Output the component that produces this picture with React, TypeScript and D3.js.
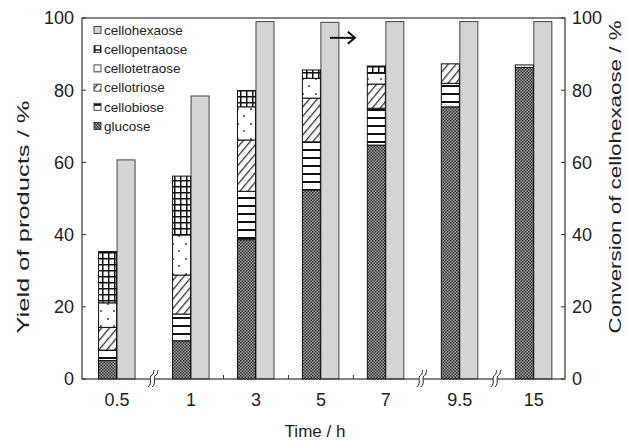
import React from 'react'
import * as d3 from 'd3'

// time points (h) and the ones followed by an axis break
const times = ['0.5', '1', '3', '5', '7', '9.5', '15']
const breaksAfter = ['0.5', '7', '9.5']

// yields (%) stacked bottom -> top
const glucose = [5.1, 10.6, 38.6, 52.4, 64.8, 75.4, 86.3]
const cellobiose = [2.9, 7.4, 13.4, 13.3, 10.2, 6.5, 0.7]
const cellotriose = [6.3, 10.8, 14.2, 12.1, 6.7, 5.4, 0]
const cellotetraose = [6.8, 11.1, 9.2, 5.5, 3.0, 0, 0]
const cellopentaose = [14.2, 16.3, 4.5, 2.3, 2.0, 0, 0]

// conversion of cellohexaose (%), right axis
const conversion = [60.7, 78.4, 99.0, 98.8, 99.0, 99.0, 99.0]

const yTicks = [0, 20, 40, 60, 80, 100]

const keys = ['glucose', 'cellobiose', 'cellotriose', 'cellotetraose', 'cellopentaose']
const legendItems = ['cellohexaose', 'cellopentaose', 'cellotetraose', 'cellotriose', 'cellobiose', 'glucose']

const W = 627
const H = 440
const left = 82
const right = 565
const top = 18
const bottom = 379
const bw = 18
const font = 'Arial, "Liberation Sans", sans-serif'
const ink = '#222'

const fills: Record<string, string> = {
  cellohexaose: '#d4d4d4',
  cellopentaose: 'url(#p-penta)',
  cellotetraose: 'url(#p-tetra)',
  cellotriose: 'url(#p-tri)',
  cellobiose: 'url(#p-bi)',
  glucose: 'url(#p-glc)',
}

export default function App() {
  // category slots, with a little extra room where the axis is broken
  let off = 0
  const slots = times.map((t, i) => {
    if (i > 0 && breaksAfter.includes(times[i - 1])) off += 0.14
    return i + off
  })

  const x = d3
    .scaleLinear()
    .domain([slots[0] - 0.54, slots[slots.length - 1] + 0.48])
    .range([left, right])
  const y = d3.scaleLinear().domain([0, 100]).range([bottom, top])
  const yR = d3.scaleLinear().domain([0, 100]).range([bottom, top])

  const table = times.map((t, i) => ({
    time: t,
    glucose: glucose[i],
    cellobiose: cellobiose[i],
    cellotriose: cellotriose[i],
    cellotetraose: cellotetraose[i],
    cellopentaose: cellopentaose[i],
  }))
  const series = d3.stack<any>().keys(keys)(table)

  const bounds = slots.slice(1).map((s, i) => ({
    pos: (s + slots[i]) / 2,
    isBreak: breaksAfter.includes(times[i]),
  }))

  const ax = x(slots[3]) // arrow sits by the 5 h conversion bar

  return (
    <svg width={W} height={H} style={{ position: 'absolute', left: 0, top: 0, background: '#fff' }}>
      <defs>
        <pattern id="p-glc" width="3" height="3" patternUnits="userSpaceOnUse">
          <rect width="3" height="3" fill="#a6a6a6" />
          <rect width="1.5" height="1.5" fill="#2a2a2a" />
          <rect x="1.5" y="1.5" width="1.5" height="1.5" fill="#2a2a2a" />
        </pattern>
        <pattern id="p-bi" width="8" height="8" patternUnits="userSpaceOnUse">
          <rect width="8" height="8" fill="#fff" />
          <rect y="5" width="8" height="2" fill="#111" />
        </pattern>
        <pattern id="p-tri" width="6" height="6" patternUnits="userSpaceOnUse" patternTransform="rotate(40)">
          <rect width="6" height="6" fill="#fff" />
          <rect width="1.3" height="6" fill="#333" />
        </pattern>
        <pattern id="p-tetra" width="13" height="15" patternUnits="userSpaceOnUse">
          <rect width="13" height="15" fill="#fff" />
          <circle cx="4" cy="4" r="0.9" fill="#333" />
          <circle cx="10" cy="11" r="0.9" fill="#333" />
        </pattern>
        <pattern id="p-penta" width="6" height="6" patternUnits="userSpaceOnUse">
          <rect width="6" height="6" fill="#fff" />
          <rect width="6" height="1.5" fill="#111" />
          <rect width="1.5" height="6" fill="#111" />
        </pattern>
      </defs>

      {/* conversion bars */}
      {times.map((t, i) => (
        <rect
          key={'c' + t}
          x={x(slots[i])}
          y={yR(conversion[i])}
          width={bw}
          height={bottom - yR(conversion[i])}
          fill={fills.cellohexaose}
          stroke="#444"
          strokeWidth={1}
        />
      ))}

      {/* stacked yields */}
      {series.map(s => (
        <g key={s.key}>
          {s.map((d, i) =>
            d[1] - d[0] > 0 ? (
              <rect
                key={i}
                x={x(slots[i]) - bw - 0.5}
                y={y(d[1])}
                width={bw}
                height={y(d[0]) - y(d[1])}
                fill={fills[s.key]}
                stroke="#111"
                strokeWidth={1}
              />
            ) : null
          )}
        </g>
      ))}

      {/* frame */}
      <rect x={left} y={top} width={right - left} height={bottom - top} fill="none" stroke="#333" strokeWidth={1.2} />

      {/* left axis */}
      {yTicks.map(t => (
        <g key={'l' + t}>
          <line x1={left} x2={left + 4} y1={y(t)} y2={y(t)} stroke="#333" />
          <text x={74} y={y(t)} dy="0.35em" textAnchor="end" fontSize={18} fontFamily={font} fill={ink}>
            {t}
          </text>
        </g>
      ))}
      {/* right axis */}
      {yTicks.map(t => (
        <g key={'r' + t}>
          <line x1={right - 4} x2={right} y1={yR(t)} y2={yR(t)} stroke="#333" />
          <text x={572} y={yR(t)} dy="0.35em" textAnchor="start" fontSize={18} fontFamily={font} fill={ink}>
            {t}
          </text>
        </g>
      ))}

      {/* bottom axis ticks and breaks */}
      {bounds.map((b, i) =>
        b.isBreak ? (
          <g key={'b' + i} transform={`translate(${x(b.pos)},${bottom})`}>
            <path d="M-6,8 C-1,4 -6,-2 -2,-4 C0,-5 -1,-7 0,-9 L4,-9 C3,-7 4,-5 2,-4 C-2,-2 3,4 -2,8 Z" fill="#fff" />
            <path d="M-6,8 C-1,4 -6,-2 -2,-4 C0,-5 -1,-7 0,-9" fill="none" stroke="#222" strokeWidth={1} />
            <path d="M-2,8 C3,4 -2,-2 2,-4 C4,-5 3,-7 4,-9" fill="none" stroke="#222" strokeWidth={1} />
          </g>
        ) : (
          <line key={'t' + i} x1={x(b.pos)} x2={x(b.pos)} y1={bottom} y2={bottom - 4} stroke="#333" />
        )
      )}
      {times.map((t, i) => (
        <text key={'x' + t} x={x(slots[i])} y={406} textAnchor="middle" fontSize={18} fontFamily={font} fill={ink}>
          {t}
        </text>
      ))}

      {/* axis titles */}
      <text x={315} y={437} textAnchor="middle" fontSize={17} fontFamily={font} fill={ink}>
        Time / h
      </text>
      <text
        transform={`translate(29,217) rotate(-90)`}
        textAnchor="middle"
        fontSize={16}
        fontFamily={font}
        fill={ink}
        textLength={233}
        lengthAdjust="spacingAndGlyphs"
      >
        Yield of products / %
      </text>
      <text
        transform={`translate(621,177) rotate(-90)`}
        textAnchor="middle"
        fontSize={16}
        fontFamily={font}
        fill={ink}
        textLength={313}
        lengthAdjust="spacingAndGlyphs"
      >
        Conversion of cellohexaose / %
      </text>

      {/* arrow pointing to the right axis */}
      <g stroke="#111" strokeWidth={2} fill="none">
        <line x1={ax + 9} x2={ax + 34} y1={y(94.5)} y2={y(94.5)} />
        <path d={`M${ax + 27},${y(94.5) - 6} L${ax + 34},${y(94.5)} L${ax + 27},${y(94.5) + 6}`} />
      </g>

      {/* legend */}
      {legendItems.map((k, i) => (
        <g key={k} transform={`translate(94,${30 + i * 19.2})`}>
          <rect x={0} y={-3.5} width={7} height={7} fill={fills[k]} stroke="#222" strokeWidth={0.8} />
          <text x={10} y={0} dy="0.35em" fontSize={13.5} fontFamily={font} fill={ink}>
            {k}
          </text>
        </g>
      ))}
    </svg>
  )
}
